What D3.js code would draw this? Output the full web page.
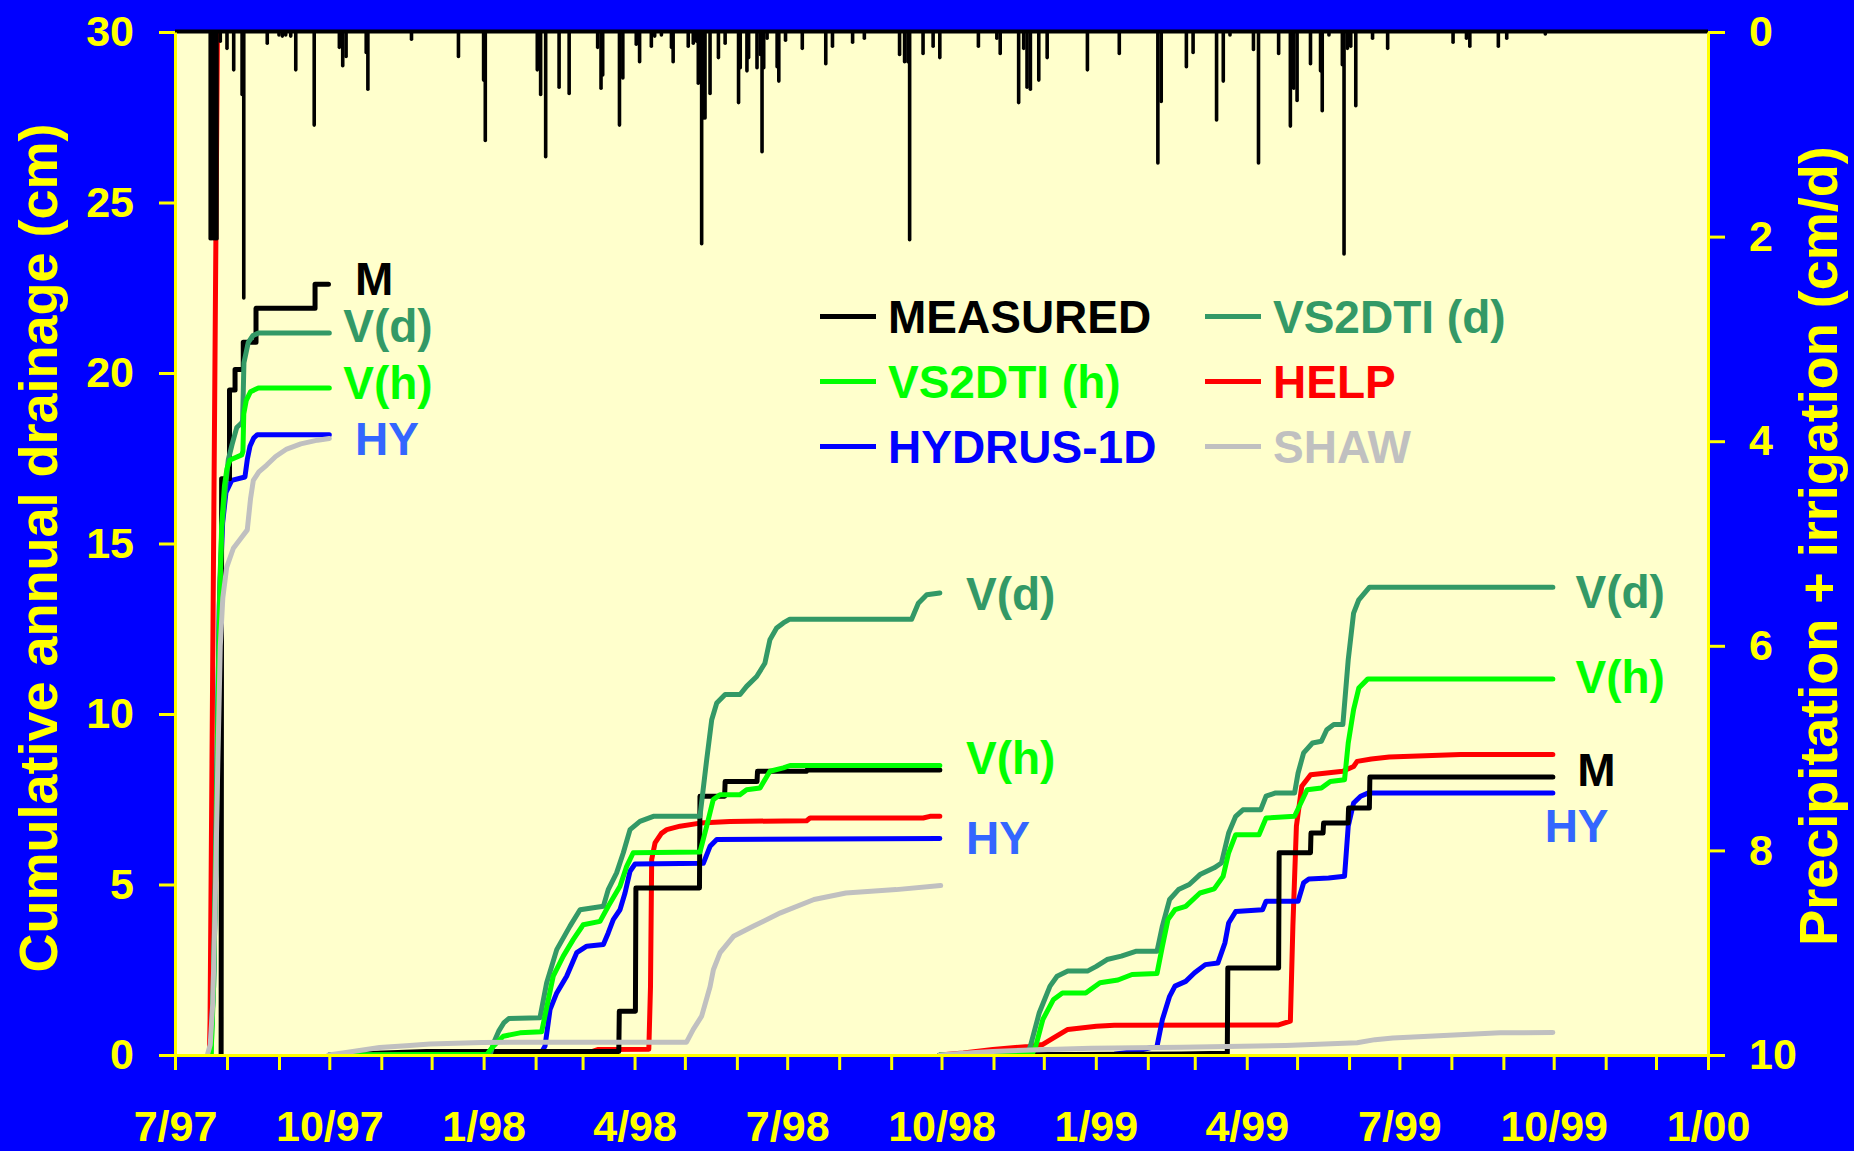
<!DOCTYPE html>
<html><head><meta charset="utf-8">
<script src="https://cdn.jsdelivr.net/npm/d3@7/dist/d3.min.js"></script>
<style>html,body{margin:0;padding:0;background:#0000FF;overflow:hidden}</style>
</head><body>
<svg id="chart" width="1854" height="1151"></svg>
<script>
// ---- DATA (x = days since 1 Jul 1997, y = cumulative drainage cm) ----
const startDateUTC = Date.UTC(1997, 6, 1);
const endDay = 914; // 1 Jan 2000

const measured = [
  [[27.5,0],[27.8,16.9],[32.5,16.9],[32.5,19.5],[35.8,19.5],[35.8,20.1],[40.7,20.1],[40.7,20.9],[48.3,20.9],[48.3,21.9],[83.5,21.9],[83.5,22.6],[91.5,22.6]],
  [[92,0],[120,0.05],[150,0.1],[264.6,0.1],[264.9,1.28],[274.5,1.28],[274.8,4.9],[312.7,4.9],[313,7.59],[327.7,7.59],[328,8.02],[347,8.02],[347.3,8.32],[376.5,8.32],[376.8,8.36],[456,8.36]],
  [[456,0],[600,0.03],[627.4,0.05],[627.7,2.55],[658,2.55],[658.3,5.93],[677,5.93],[677.3,6.51],[684.5,6.51],[684.8,6.8],[699.4,6.8],[699.7,7.24],[712.1,7.24],[712.4,8.15],[821.5,8.15]]
];
const vs2dtiD = [
  [[21.5,0],[23,2.5],[24.5,7],[25.8,11],[26.8,14],[28,15.5],[30,16.6],[31.8,17.46],[34,17.9],[36.8,18.4],[39.8,18.54],[40.3,18.6],[41.1,20.3],[43.7,20.9],[46.5,21.1],[49.7,21.17],[92,21.17]],
  [[92,0],[188,0.02],[190,0.36],[193,0.7],[196,0.94],[199,1.07],[217.6,1.09],[221.6,2.12],[227.6,3.09],[235.5,3.78],[241.5,4.26],[255.4,4.36],[258.3,4.85],[263.3,5.34],[267.3,5.93],[271.3,6.61],[277.2,6.85],[285.2,7.0],[313,7.0],[317,8.66],[320,9.83],[323,10.32],[328,10.57],[336.9,10.57],[340.8,10.81],[346.8,11.1],[351.7,11.49],[354.7,12.18],[358.7,12.52],[362.7,12.67],[366.6,12.78],[439.2,12.78],[443.2,13.25],[448.2,13.5],[456,13.55]],
  [[456,0],[508,0.02],[510,0.26],[515.3,1.24],[521.7,2.02],[525.9,2.31],[532.3,2.46],[544,2.46],[549.3,2.6],[555.7,2.8],[564.2,2.9],[572.8,3.04],[585.5,3.04],[588.7,3.78],[593,4.56],[598.3,4.85],[604.7,5.0],[611.1,5.29],[619.6,5.49],[623.9,5.63],[628.2,6.51],[632.4,7.0],[636.7,7.19],[647.3,7.19],[650.5,7.59],[655.8,7.68],[667.5,7.68],[669.6,8.27],[672.9,8.86],[678.2,9.15],[683.5,9.2],[686.7,9.54],[690.9,9.69],[696.3,9.69],[699.5,11.59],[702.7,12.96],[705.8,13.35],[712.2,13.72],[821.5,13.72]]
];
const vs2dtiH = [
  [[21.5,0],[23,2],[24.5,6],[25.8,10.5],[26.8,13.5],[27.8,15.5],[29.5,16.7],[31,17.2],[32.8,17.45],[39.8,17.6],[40.5,17.7],[41,18.8],[42.5,19.2],[45,19.45],[49.7,19.56],[92,19.56]],
  [[92,0],[186,0.02],[189.8,0.26],[195.7,0.55],[205.7,0.65],[218.6,0.68],[222.6,1.63],[225.5,2.31],[231.5,2.9],[237.5,3.39],[243.4,3.82],[253.4,3.92],[258.3,4.36],[265.3,4.95],[269.3,5.53],[273.2,5.93],[313,5.95],[317,6.71],[320.9,7.49],[324.9,7.63],[336.8,7.63],[340.8,7.78],[348.8,7.83],[354.7,8.32],[362.7,8.42],[366.7,8.49],[456,8.49]],
  [[456,0],[511,0.02],[513.2,0.26],[517.4,1.04],[523.8,1.63],[529.1,1.82],[543,1.82],[551.5,2.12],[562.2,2.2],[570.6,2.36],[585.5,2.39],[588.7,3.19],[592,3.97],[596.2,4.26],[602.6,4.36],[611.1,4.75],[619.6,4.87],[624.9,5.24],[628.2,5.93],[632.4,6.46],[646.3,6.46],[650.5,6.95],[667.5,7.0],[675,7.78],[683.5,7.83],[688.8,8.02],[697.3,8.07],[699.5,9.15],[702.7,10.13],[705.8,10.76],[711.2,11.03],[821.5,11.03]]
];
const help = [
  [[20.5,0],[20.9,1],[25.3,30],[25.6,32]],
  [[92,0],[110,0.02],[150,0.05],[200,0.09],[249,0.11],[252,0.16],[282.5,0.17],[283.5,2],[284.2,5.73],[286.2,6.22],[290,6.5],[293.2,6.61],[301.1,6.71],[313,6.8],[330.9,6.85],[376.6,6.87],[378.6,6.95],[446.1,6.95],[450.1,7.0],[456,7.0]],
  [[456,0],[470,0.06],[487.6,0.16],[508.9,0.25],[517.4,0.31],[523.8,0.5],[532.3,0.75],[549.3,0.84],[560,0.87],[658,0.88],[665,0.99],[666.5,3.78],[668.6,6.71],[671.8,7.88],[677.1,8.22],[696.3,8.32],[702.7,8.46],[704.8,8.61],[713.3,8.68],[724,8.74],[766.5,8.81],[821.5,8.81]]
];
const hydrus = [
  [[21,0],[23,2],[24.5,6],[25.5,10],[26.4,13.2],[28.4,15.6],[30.4,16.5],[33.8,16.85],[41.7,16.95],[43.1,17.46],[44.7,17.85],[47,18.1],[49.1,18.19],[92,18.19]],
  [[92,0],[217.6,0],[220.6,0.26],[223.6,1.33],[227.6,1.82],[233.5,2.31],[239.5,3.0],[245.5,3.19],[255.4,3.24],[258.3,3.58],[261.3,3.97],[265.3,4.26],[268.3,4.75],[271.3,5.39],[274.3,5.6],[315,5.62],[319,6.12],[323,6.32],[456,6.35]],
  [[456,0],[560,0.02],[572.8,0.11],[585.5,0.26],[588.7,1.04],[593,1.72],[596.2,2.02],[602.6,2.16],[607.9,2.41],[614.3,2.65],[621.8,2.7],[626,3.29],[628.2,3.87],[632.4,4.21],[648.4,4.26],[650.5,4.51],[669.6,4.51],[672.9,5.05],[676,5.16],[687.8,5.19],[697.3,5.24],[699.5,6.71],[702.7,7.39],[706.9,7.59],[711.2,7.68],[821.5,7.68]]
];
const shaw = [
  [[19.3,0],[21,0.3],[22.5,1.5],[24,4.5],[25.5,8.5],[27,12],[28.5,13.4],[30.8,14.3],[34.8,14.86],[40,15.2],[43.1,15.4],[45,16.3],[46.7,16.85],[50,17.1],[54.7,17.3],[60,17.55],[66.6,17.77],[75,17.92],[85,18.03],[92,18.08]],
  [[91.5,0],[100,0.06],[110,0.13],[122,0.22],[140,0.28],[152,0.32],[183,0.37],[305,0.375],[309,0.75],[314,1.14],[319,2.0],[321,2.5],[325,3.0],[333,3.48],[345,3.78],[361,4.17],[381,4.56],[400,4.75],[430,4.85],[456.5,4.97]],
  [[456,0],[470,0.05],[487.6,0.1],[510,0.15],[546.1,0.2],[600,0.23],[662.2,0.28],[704.8,0.36],[715.5,0.45],[726.1,0.5],[747.4,0.55],[768.7,0.6],[790,0.65],[821.5,0.66]]
];
// daily precipitation + irrigation (day, cm/d)
const precip = [
  [21,2.02],[22,2.02],[23,2.02],[24,2.02],[25,2.02],[27,0.09],[31,0.16],[35,0.37],[40,0.61],[41,2.6],[55,0.11],[62,0.03],[64,0.04],[66,0.03],[69,0.04],[72,0.37],[83,0.91],
  [98,0.15],[100,0.33],[102,0.24],[114,0.2],[115,0.56],[141,0.07],[169,0.24],[184,0.47],[185,1.06],[216,0.37],[218,0.61],[221,1.22],[229,0.54],[235,0.6],
  [252,0.15],[254,0.55],[255,0.42],[265,0.91],[267,0.45],[275,0.12],[277,0.29],[284,0.14],[286,0.04],[290,0.03],[296,0.15],[297,0.29],[306,0.14],[309,0.11],
  [311,0.09],[312,0.5],[314,2.07],[315,0.84],[316,0.84],[319,0.6],[324,0.25],[328,0.11],[336,0.69],[337,0.35],[341,0.38],[342,0.25],[347,0.35],[349,0.22],[350,1.17],[351,0.35],[353,0.06],
  [359,0.34],[360,0.48],[364,0.08],[374,0.16],[388,0.31],[392,0.14],[404,0.1],[411,0.06],[432,0.22],[435,0.29],[437,0.29],[438,2.03],[446,0.21],[452,0.14],[456,0.25],
  [479,0.14],[490,0.06],[492,0.21],[503,0.69],[506,0.16],[508,0.54],[510,0.56],[515,0.47],[520,0.25],[544,0.37],[563,0.21],[586,1.28],[588,0.68],[603,0.34],[607,0.2],
  [621,0.86],[625,0.48],[629,0.03],[643,0.17],[646,1.28],[658,0.21],[665,0.92],[667,0.55],[669,0.67],[677,0.31],[683,0.38],[684,0.77],[688,0.03],[696,0.32],[697,2.17],[699,0.16],[701,0.14],[704,0.72],
  [714,0.06],[723,0.16],[762,0.1],[770,0.06],[772,0.14],[789,0.14],[794,0.06],[817,0.02]
];
const yTicks = [0,5,10,15,20,25,30];
const yPrecipTicks = [0,2,4,6,8,10];
const xTickLabels = ["7/97","10/97","1/98","4/98","7/98","10/98","1/99","4/99","7/99","10/99","1/00"];
const seriesNames = ["MEASURED","VS2DTI (d)","VS2DTI (h)","HELP","HYDRUS-1D","SHAW"];
// in-plot labels: [text, day, value(cm), colour key]
const endLabels = [
  ["M",107.3,22.3,"m"],["V(d)",100.3,20.91,"d"],["V(h)",100.3,19.23,"h"],["HY",107.3,17.59,"hy"],
  ["V(d)",471.6,13.06,"d"],["V(h)",471.6,8.25,"h"],["HY",471.6,5.88,"hy"],
  ["V(d)",835,13.12,"d"],["V(h)",835,10.62,"h"],["M",836.1,7.89,"m"],["HY",816.6,6.24,"hy"]
];

// ---- STYLE ----
const C = {m:"#000000", d:"#339966", h:"#00FF00", help:"#FF0000", hyLine:"#0000FF", hy:"#3366FF", shaw:"#C0C0C0"};
const FONT = "'Liberation Sans', Arial, Helvetica, sans-serif";
const W = 1854, H = 1151;
const P = {left:175, right:1708, top:32, bottom:1055};
const day = d => new Date(startDateUTC + d*864e5);

const svg = d3.select("#chart");
svg.append("rect").attr("width",W).attr("height",H).attr("fill","#0000FF");
svg.append("rect").attr("x",P.left).attr("y",P.top).attr("width",P.right-P.left).attr("height",P.bottom-P.top).attr("fill","#FFFFCC");

const x = d3.scaleUtc().domain([day(0), day(endDay)]).range([P.left, P.right]);
const y = d3.scaleLinear().domain([0,30]).range([P.bottom, P.top]);
const yP = d3.scaleLinear().domain([0,10]).range([P.top, P.bottom]);

svg.append("defs").append("clipPath").attr("id","plotclip")
  .append("rect").attr("x",P.left).attr("y",P.top).attr("width",P.right-P.left).attr("height",P.bottom-P.top);

const plot = svg.append("g").attr("clip-path","url(#plotclip)");
const line = d3.line().x(d=>x(day(d[0]))).y(d=>y(d[1]));

const drawOrder = [[help,C.help],[hydrus,C.hyLine],[measured,C.m],[vs2dtiD,C.d],[vs2dtiH,C.h],[shaw,C.shaw]];
drawOrder.forEach(([segs,col])=>{
  plot.append("g").selectAll("path").data(segs).join("path")
    .attr("d",line).attr("fill","none").attr("stroke",col).attr("stroke-width",5)
    .attr("stroke-linejoin","round").attr("stroke-linecap","round");
});

// precipitation bars hanging from top
plot.append("g").selectAll("line").data(precip).join("line")
  .attr("x1",d=>x(day(d[0]))).attr("x2",d=>x(day(d[0])))
  .attr("y1",P.top).attr("y2",d=>yP(d[1]))
  .attr("stroke","#000").attr("stroke-width",3.6).attr("stroke-linecap","round");

// top border
svg.append("line").attr("x1",P.left).attr("x2",P.right).attr("y1",P.top-0.5).attr("y2",P.top-0.5)
  .attr("stroke","#000").attr("stroke-width",4);

// axes
const months = d3.utcMonth.range(day(0), day(endDay+1));
const fmt = d => `${d.getUTCMonth()+1}/${String(d.getUTCFullYear()).slice(2)}`;
const gx = svg.append("g").attr("transform",`translate(0,${P.bottom})`)
  .call(d3.axisBottom(x).tickValues(months).tickSize(15).tickSizeOuter(0).tickPadding(40)
    .tickFormat(d => xTickLabels.includes(fmt(d)) ? fmt(d) : ""));
const gy = svg.append("g").attr("transform",`translate(${P.left},0)`)
  .call(d3.axisLeft(y).tickValues(yTicks).tickSize(16).tickSizeOuter(0).tickPadding(25));
const gy2 = svg.append("g").attr("transform",`translate(${P.right},0)`)
  .call(d3.axisRight(yP).tickValues(yPrecipTicks).tickSize(17).tickSizeOuter(0).tickPadding(24));
[gx,gy,gy2].forEach(g=>{
  g.select(".domain").attr("stroke","#FFFF00").attr("stroke-width",3);
  g.selectAll(".tick line").attr("stroke","#FFFF00").attr("stroke-width",3);
  g.selectAll(".tick text").attr("fill","#FFFF00").attr("font-family",FONT)
    .attr("font-weight","bold").attr("font-size",43);
});

// axis titles
svg.append("text").attr("transform","translate(57,548) rotate(-90)").attr("text-anchor","middle")
  .attr("fill","#FFFF00").attr("font-family",FONT).attr("font-weight","bold").attr("font-size",54)
  .text("Cumulative annual drainage (cm)");
svg.append("text").attr("transform","translate(1837,546) rotate(-90)").attr("text-anchor","middle")
  .attr("fill","#FFFF00").attr("font-family",FONT).attr("font-weight","bold").attr("font-size",54)
  .text("Precipitation + irrigation (cm/d)");

// in-plot labels
svg.append("g").selectAll("text").data(endLabels).join("text")
  .attr("x",d=>x(day(d[1]))).attr("y",d=>y(d[2]))
  .attr("fill",d=>C[d[3]]).attr("font-family",FONT).attr("font-weight","bold").attr("font-size",46)
  .text(d=>d[0]);

// legend
const legendColors = [C.m, C.d, C.h, C.help, C.hyLine, C.shaw];
const lg = svg.append("g");
seriesNames.forEach((name,i)=>{
  const col = i%2, row = Math.floor(i/2);
  const lx = col===0 ? 820 : 1205;
  const cy = 316.5 + row*65;
  lg.append("line").attr("x1",lx).attr("x2",lx+56).attr("y1",cy).attr("y2",cy)
    .attr("stroke",legendColors[i]).attr("stroke-width",5);
  lg.append("text").attr("x",lx+68).attr("y",cy+16.5).attr("fill",legendColors[i])
    .attr("font-family",FONT).attr("font-weight","bold").attr("font-size",46).text(name);
});
</script>
</body></html>
